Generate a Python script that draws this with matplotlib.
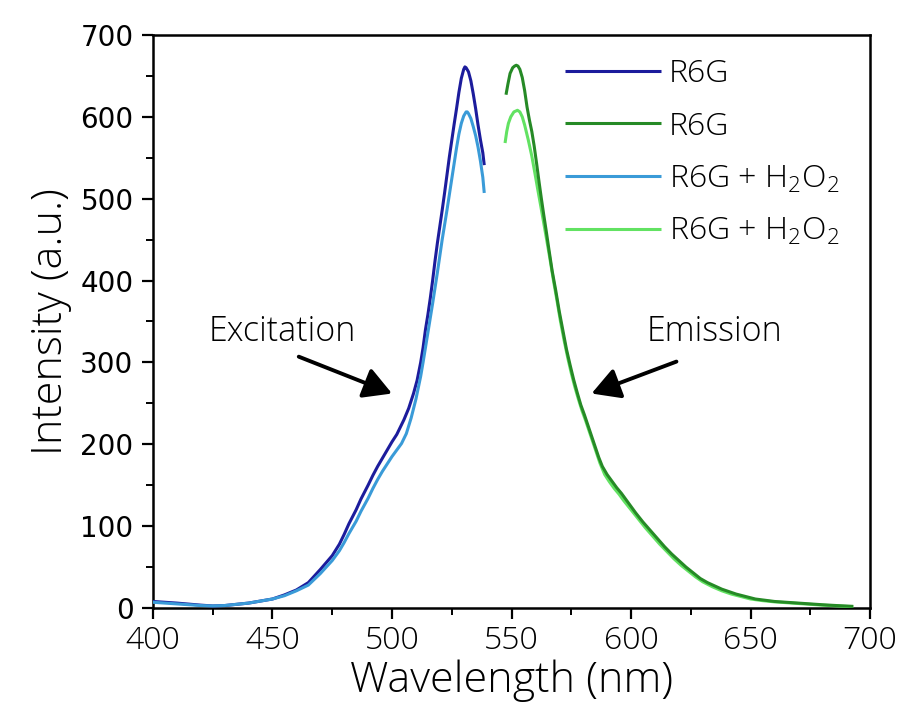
import matplotlib
matplotlib.use("Agg")
import matplotlib.pyplot as plt
from matplotlib.ticker import MultipleLocator
from matplotlib import font_manager

# ---- data ----
exc_x = [400, 410, 420, 425, 430, 440, 450, 455, 460, 465, 470, 475, 478, 480, 482,
         485, 487, 490, 492, 494, 496, 498, 500, 502, 503, 505, 507, 509, 510.5,
         512, 513, 514, 515, 516, 517, 518, 519, 520, 521, 522, 523, 524, 525,
         526, 527, 528, 529, 530, 530.5, 531, 532, 533, 534, 535, 536, 537, 538,
         538.6]
exc_r6g = [8, 6, 3.5, 2.5, 3, 6, 11, 16, 22, 31, 47, 64, 78, 90, 103,
           120, 133, 150, 162, 173, 183, 193, 203, 212, 218, 230, 244, 262, 278,
           300, 318, 340, 358, 378, 400, 424, 446, 466, 486, 507, 529, 551, 571,
           591, 610, 630, 647, 658, 661, 660, 655, 644, 628, 610, 590, 572, 556,
           541]

exc2_x = [400, 410, 420, 425, 430, 440, 450, 455, 460, 465, 470, 475, 478, 480, 482,
          485, 487, 490, 492, 494, 496, 498, 500, 502, 504, 506, 508, 510, 512,
          513, 514, 515, 516, 517, 518, 519, 520, 521, 522, 523, 524, 525, 526,
          527, 528, 529, 530, 531, 531.5, 532, 533, 534, 535, 536, 537, 538, 538.6]
exc_h2o2 = [7, 5, 3, 2.5, 3, 6, 11, 15, 21, 28, 42, 58, 70, 80, 91,
            106, 118, 134, 146, 157, 167, 176, 185, 193, 201, 213, 232, 255, 283,
            300, 318, 336, 354, 372, 391, 410, 430, 450, 468, 486, 505, 524, 543,
            562, 579, 592, 601, 606, 606, 604, 598, 588, 577, 563, 546, 526, 507]

em_x = [547.7, 548.5, 549.4, 550.5, 551.3, 552, 552.7, 553.5, 554.5, 555.5, 556.5,
        557.5, 558.5, 559.5, 560.5, 561.5, 562.5, 563.5, 564.5, 565.5, 567, 568.5,
        570, 571.5, 573, 574.5, 576, 577.5, 579, 580.5, 582, 583.5, 585, 586.5,
        588, 590, 592, 594, 596, 598, 600, 602, 605, 608, 611, 614, 617, 620, 623,
        626, 629, 632, 635, 638, 641, 644, 648, 652, 656, 660, 665, 670, 675, 680,
        686, 693]
em_r6g = [627, 640, 653, 660, 662, 663, 662, 658, 648, 632, 612,
          596, 582, 564, 543, 521, 500, 480, 461, 441, 412, 388,
          362, 339, 316, 297, 279, 263, 248, 236, 223, 210, 197, 184,
          173, 163, 155, 147, 140, 132, 124, 116, 105, 95, 85, 75, 66, 58, 50,
          43, 36, 31, 27, 23, 20, 17, 14, 11, 9.5, 8, 7, 6, 5, 4,
          3, 2]

em2_x = [547.3, 548, 548.7, 549.7, 551, 552.5, 553.5, 554.5, 555.5, 557, 558.5,
         559.8, 561, 562.3, 563.5, 564.7, 566, 567.5, 569, 570.5, 572, 573.5, 575,
         576.5, 578, 579.5, 581, 582.5, 584, 585.5, 587, 589, 591, 593, 595, 597,
         600, 603, 606, 609, 612, 615, 618, 621, 624, 627, 630, 634, 638, 642, 646,
         650, 655, 660, 665, 670, 675, 680, 686, 693]
em_h2o2 = [568, 582, 592, 600, 606, 608, 606, 600, 590, 572, 552,
           531, 511, 490, 470, 450, 428, 401, 376, 350, 327, 306, 287,
           270, 255, 241, 229, 216, 203, 190, 177, 163, 154, 146, 139, 131,
           120, 109, 98, 88, 78, 69, 60, 52, 45, 38, 32, 26, 21, 17, 14,
           11, 9, 7.5, 6.5, 5.5, 4.5, 3.5, 2.5, 1.5]

labels = ["R6G", "R6G", "R6G + H$_2$O$_2$", "R6G + H$_2$O$_2$"]
colors = ["#1c1c9c", "#268a26", "#3a9bd8", "#62e262"]

def has_font(name, weight):
    for f in font_manager.fontManager.ttflist:
        if f.name == name and f.weight == weight:
            return True
    return False

wt = 'light' if has_font('Open Sans', 300) else 'normal'

plt.rcParams['font.family'] = ['Open Sans', 'DejaVu Sans']
plt.rcParams['font.weight'] = wt
plt.rcParams['axes.labelweight'] = wt
plt.rcParams['mathtext.fontset'] = 'custom'
plt.rcParams['mathtext.rm'] = 'Open Sans:' + wt
plt.rcParams['mathtext.it'] = 'Open Sans:' + wt

fig = plt.figure(figsize=(9.03, 7.18), dpi=100)
ax = fig.add_axes([0.1694, 0.1532, 0.7941, 0.7981])

lw = 2.2
kw = dict(lw=lw, solid_joinstyle='round', solid_capstyle='butt')
ax.plot(exc_x, exc_r6g, color=colors[0], label=labels[0], zorder=3, **kw)
ax.plot(em_x, em_r6g, color=colors[1], label=labels[1], zorder=4, **kw)
ax.plot(exc2_x, exc_h2o2, color=colors[2], label=labels[2], zorder=3.5, **kw)
ax.plot(em2_x, em_h2o2, color=colors[3], label=labels[3], zorder=3, **kw)

ax.set_xlim(400, 700)
ax.set_ylim(0, 700)
ax.xaxis.set_major_locator(MultipleLocator(50))
ax.xaxis.set_minor_locator(MultipleLocator(25))
ax.yaxis.set_major_locator(MultipleLocator(100))
ax.yaxis.set_minor_locator(MultipleLocator(50))
ax.tick_params(which='major', direction='out', length=8, width=1.6,
               top=False, right=False)
ax.tick_params(which='minor', direction='out', length=5, width=1.4,
               top=False, right=False)
ax.tick_params(axis='x', which='major', labelsize=23, pad=4)
ax.tick_params(axis='y', which='major', labelsize=20, pad=6)
for lab in ax.get_yticklabels():
    lab.set_family('DejaVu Sans')
    lab.set_weight('normal')
for s in ax.spines.values():
    s.set_linewidth(1.8)
    s.set_color('black')

ax.set_xlabel("Wavelength (nm)", fontsize=31, labelpad=2)
ax.set_ylabel("Intensity (a.u.)", fontsize=31, labelpad=6)

leg = ax.legend(loc='upper left', bbox_to_anchor=(0.5746, 0.96), frameon=False,
                fontsize=23, handlelength=3.0, handletextpad=0.25,
                labelspacing=0.65, borderaxespad=0, borderpad=0)

arrow_kw = dict(arrowstyle='-|>,head_length=1.7,head_width=0.95', color='black',
                lw=2.8, shrinkA=0, shrinkB=0)
ax.annotate("", xy=(500, 262), xytext=(461, 307), arrowprops=arrow_kw)
ax.annotate("", xy=(583.5, 262), xytext=(619, 301), arrowprops=arrow_kw)
ax.text(454, 337, "Excitation", fontsize=24.5, ha='center', va='center')
ax.text(635, 337, "Emission", fontsize=24.5, ha='center', va='center')

fig.savefig("out.png", dpi=100)
